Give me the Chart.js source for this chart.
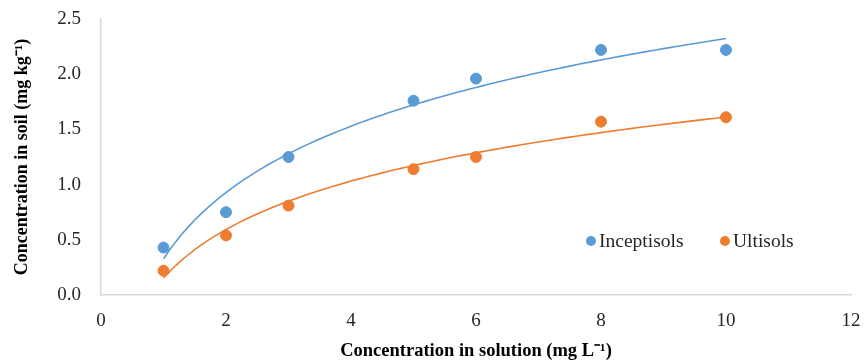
<!DOCTYPE html>
<html>
<head>
<meta charset="utf-8">
<script src="https://cdn.jsdelivr.net/npm/chart.js@4"></script>
<style>
  html, body { margin: 0; padding: 0; background: #fff; }
  #wrap { width: 864px; height: 360px; position: relative; }
</style>
</head>
<body>
<div id="wrap"><canvas id="isoChart"></canvas></div>
<script>
// concentration in solution (mg/L)
const concSolution = [1, 2, 3, 5, 6, 8, 10];
// concentration in soil (mg/kg)
const inceptisols = [0.43, 0.75, 1.25, 1.76, 1.96, 2.22, 2.22];
const ultisols = [0.22, 0.54, 0.81, 1.14, 1.25, 1.57, 1.61];
const seriesNames = ['Inceptisols', 'Ultisols'];
const seriesColors = ['#5B9BD5', '#ED7D31'];

// logarithmic trendline (least squares on ln x), like the spreadsheet one
function logFit(xs, ys) {
    const lx = xs.map(v => Math.log(v));
    const n = xs.length;
    const mx = lx.reduce((a, b) => a + b, 0) / n;
    const my = ys.reduce((a, b) => a + b, 0) / n;
    let sxy = 0, sxx = 0;
    for (let i = 0; i < n; i++) {
        sxy += (lx[i] - mx) * (ys[i] - my);
        sxx += (lx[i] - mx) * (lx[i] - mx);
    }
    const a = sxy / sxx;
    const b = my - a * mx;
    const pts = [];
    const x0 = xs[0], x1 = xs[n - 1];
    for (let i = 0; i <= 90; i++) {
        const x = x0 + (x1 - x0) * i / 90;
        pts.push({ x: x, y: a * Math.log(x) + b });
    }
    return pts;
}

const toPoints = ys => concSolution.map((x, i) => ({ x: x, y: ys[i] }));

const serif = '"Liberation Serif", "Times New Roman", serif';

// legend drawn inside the plot, lower right
const innerLegend = {
    id: 'innerLegend',
    afterDraw(chart) {
        const ctx = chart.ctx;
        const area = chart.chartArea;
        const y = area.bottom - 54;
        const xs = [area.right - 260, area.right - 126];
        ctx.save();
        ctx.font = '19.5px ' + serif;
        ctx.textBaseline = 'middle';
        seriesNames.forEach((name, i) => {
            ctx.beginPath();
            ctx.arc(xs[i], y, 5, 0, Math.PI * 2);
            ctx.fillStyle = seriesColors[i];
            ctx.fill();
            ctx.fillStyle = '#262626';
            ctx.fillText(name, xs[i] + 8, y + 1);
        });
        ctx.restore();
    }
};

new Chart(document.getElementById('isoChart'), {
    type: 'scatter',
    data: {
        datasets: [
            {
                label: seriesNames[0],
                data: toPoints(inceptisols),
                backgroundColor: seriesColors[0],
                borderColor: seriesColors[0],
                pointRadius: 5.5,
                order: 1
            },
            {
                label: seriesNames[1],
                data: toPoints(ultisols),
                backgroundColor: seriesColors[1],
                borderColor: seriesColors[1],
                pointRadius: 5.5,
                order: 1
            },
            {
                label: 'trend ' + seriesNames[0],
                data: logFit(concSolution, inceptisols),
                showLine: true,
                borderColor: seriesColors[0],
                borderWidth: 1.6,
                pointRadius: 0,
                order: 2
            },
            {
                label: 'trend ' + seriesNames[1],
                data: logFit(concSolution, ultisols),
                showLine: true,
                borderColor: seriesColors[1],
                borderWidth: 1.6,
                pointRadius: 0,
                order: 2
            }
        ]
    },
    options: {
        responsive: true,
        maintainAspectRatio: false,
        animation: false,
        layout: { padding: { top: 19, right: 13, left: 0, bottom: 0 } },
        scales: {
            x: {
                type: 'linear',
                min: 0,
                max: 12,
                ticks: {
                    stepSize: 2,
                    padding: 15,
                    color: '#262626',
                    font: { family: serif, size: 19 }
                },
                grid: { display: false, drawTicks: false },
                border: { display: true, color: '#d9d9d9', width: 1.5 },
                title: {
                    display: true,
                    text: 'Concentration in solution (mg L⁻¹)',
                    color: '#000',
                    font: { family: serif, size: 18.5, weight: 'bold' },
                    padding: { top: 4, bottom: -2 }
                },
                afterFit(scale) {
                    scale.height = 65;
                    scale.paddingLeft = 0;
                    scale.paddingRight = 0;
                }
            },
            y: {
                min: 0,
                max: 2.5,
                ticks: {
                    stepSize: 0.5,
                    padding: 20,
                    color: '#262626',
                    font: { family: serif, size: 19 },
                    callback: v => v.toFixed(1)
                },
                grid: { display: false, drawTicks: false },
                border: { display: true, color: '#d9d9d9', width: 1.5 },
                title: {
                    display: true,
                    text: 'Concentration in soil (mg kg⁻¹)',
                    color: '#000',
                    font: { family: serif, size: 18, weight: 'bold' },
                    padding: { bottom: 0, top: 12 }
                },
                afterFit(scale) {
                    scale.width = 101;
                    scale.paddingTop = 0;
                    scale.paddingBottom = 0;
                }
            }
        },
        plugins: {
            legend: { display: false },
            tooltip: { enabled: false }
        }
    },
    plugins: [innerLegend]
});
</script>
</body>
</html>
